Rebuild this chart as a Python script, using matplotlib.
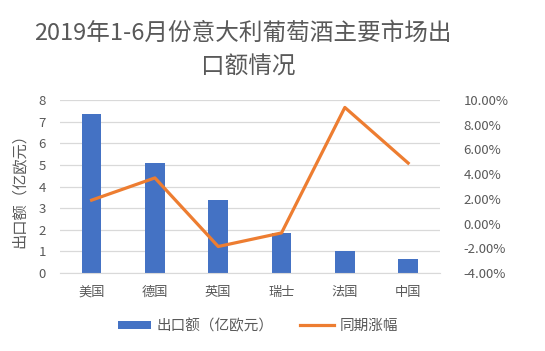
import numpy as np
import matplotlib
matplotlib.use('Agg')
import matplotlib.pyplot as plt
from matplotlib.ticker import FuncFormatter

plt.rcParams['font.family'] = ['Noto Sans CJK SC', 'DejaVu Sans']

# --- data ---
countries = ['美国', '德国', '英国', '瑞士', '法国', '中国']
export_value = [7.35, 5.1, 3.4, 1.85, 1.0, 0.65]     # 亿欧元
yoy_growth = [1.9, 3.7, -1.85, -0.75, 9.4, 4.9]      # %

bar_color = '#4472C4'
line_color = '#ED7D31'
text_color = '#595959'
grid_color = '#D9D9D9'

fig = plt.figure(figsize=(5.45, 3.51), dpi=100)
ax = fig.add_axes([0.11, 0.222, 0.697, 0.493])
ax2 = ax.twinx()

x = np.arange(len(countries))
ax.bar(x, export_value, width=0.31, color=bar_color, zorder=2, label='出口额（亿欧元）')
ax2.plot(x, yoy_growth, color=line_color, lw=2.3, zorder=3, label='同期涨幅')

ax.set_xlim(-0.5, len(countries) - 0.5)
ax.set_ylim(0, 8)
ax.set_yticks(range(0, 9))
ax2.set_ylim(-4, 10)
ax2.set_yticks(range(-4, 11, 2))
ax2.yaxis.set_major_formatter(FuncFormatter(lambda v, p: f'{v:.2f}%'))

ax.set_xticks(x)
ax.set_xticklabels(countries)
ax.yaxis.grid(True, color=grid_color, lw=0.9, zorder=0)
ax.set_axisbelow(True)

for a in (ax, ax2):
    for s in a.spines.values():
        s.set_visible(False)
    a.tick_params(length=0, colors=text_color, labelsize=9.5)
ax.spines['bottom'].set_visible(True)
ax.spines['bottom'].set_color(grid_color)
ax.tick_params(axis='x', pad=9)
ax.tick_params(axis='y', pad=10)
ax2.tick_params(axis='y', pad=17)

ax.set_ylabel('出口额（亿欧元）', color=text_color, fontsize=11, labelpad=8)

fig.text(0.446, 0.905, '2019年1-6月份意大利葡萄酒主要市场出', ha='center', va='center',
         fontsize=17, color=text_color)
fig.text(0.455, 0.81, '口额情况', ha='center', va='center', fontsize=17, color=text_color)

h1, l1 = ax.get_legend_handles_labels()
h2, l2 = ax2.get_legend_handles_labels()
fig.legend(h1 + h2, l1 + l2, loc='center', bbox_to_anchor=(0.473, 0.072), ncol=2,
           frameon=False, fontsize=10.5, labelcolor=text_color, handlelength=2.3,
           handleheight=0.5, columnspacing=1.8, handletextpad=0.4)

fig.savefig('out.png', dpi=100)
